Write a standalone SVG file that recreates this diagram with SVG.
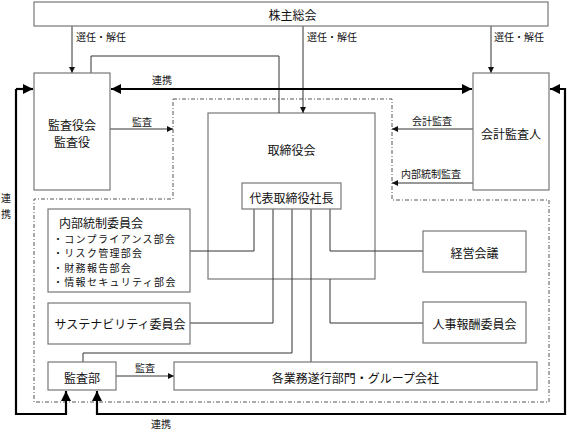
<svg xmlns="http://www.w3.org/2000/svg" width="567" height="430" viewBox="0 0 567 430">
<defs>
<style>
.box{fill:#fff;stroke:#777;stroke-width:1.2}
.t{font-family:"Noto Sans CJK JP","Noto Sans CJK SC",sans-serif;font-size:12px;fill:#111;text-anchor:middle;dominant-baseline:central}
.s{font-family:"Noto Sans CJK JP","Noto Sans CJK SC",sans-serif;font-size:10px;fill:#111;dominant-baseline:central}
.b{font-family:"Noto Sans CJK JP","Noto Sans CJK SC",sans-serif;font-size:10px;fill:#111;dominant-baseline:central;letter-spacing:1.3px}
.ln{fill:none;stroke:#333;stroke-width:1}
.th{fill:none;stroke:#000;stroke-width:2.2}
.dd{fill:none;stroke:#555;stroke-width:1;stroke-dasharray:4,2,1,2}
</style>
<marker id="a" viewBox="0 0 10 10" refX="10" refY="5" markerWidth="6" markerHeight="6" markerUnits="userSpaceOnUse" orient="auto"><path d="M0,0L10,5L0,10z" fill="#111"/></marker>
<marker id="A" viewBox="0 0 10 10" refX="10" refY="5" markerWidth="10" markerHeight="10" markerUnits="userSpaceOnUse" orient="auto-start-reverse"><path d="M0,0L10,5L0,10z" fill="#000"/></marker>
</defs>

<path class="dd" d="M173,99H392V200H549V402H34V199H173Z"/>

<g id="board"><rect class="box" x="208" y="113" width="167" height="166" style="fill:none"/><text class="t" x="291.5" y="149">取締役会</text></g>

<g id="connectors">
<line class="ln" x1="72" y1="26" x2="72" y2="73" marker-end="url(#a)"/>
<line class="ln" x1="303" y1="26" x2="303" y2="113" marker-end="url(#a)"/>
<line class="ln" x1="491" y1="26" x2="491" y2="73" marker-end="url(#a)"/>
<polyline class="ln" points="91,73 91,56 279,56 279,113"/>
<line class="th" x1="111" y1="89" x2="472" y2="89" marker-start="url(#A)" marker-end="url(#A)"/>
<polyline class="th" points="16,89 33,89" marker-end="url(#A)"/>
<polyline class="th" points="16,89 16,414 66,414 66,391" marker-end="url(#A)"/>
<polyline class="th" points="550,89 565,89 565,414 97,414 97,391" marker-start="url(#A)" marker-end="url(#A)"/>
<line class="ln" x1="110" y1="129" x2="173" y2="129" marker-end="url(#a)"/>
<line class="ln" x1="473" y1="129" x2="392" y2="129" marker-end="url(#a)"/>
<line class="ln" x1="473" y1="183" x2="392" y2="183" marker-end="url(#a)"/>
<polyline class="ln" points="254,209 254,251 190,251"/>
<polyline class="ln" points="273,209 273,323 190,323"/>
<polyline class="ln" points="330,209 330,251 423,251"/>
<polyline class="ln" points="330,279 330,323 423,323"/>
<polyline class="ln" points="292,209 292,353 83,353 83,362"/>
<line class="ln" x1="311" y1="209" x2="311" y2="362"/>
<line class="ln" x1="116" y1="376" x2="174" y2="376" marker-end="url(#a)"/>
</g>

<g id="labels">
<text class="s" x="76" y="36">選任・解任</text>
<text class="s" x="307" y="36">選任・解任</text>
<text class="s" x="494" y="36">選任・解任</text>
<text class="s" x="152" y="79">連携</text>
<text class="s" x="132" y="121">監査</text>
<text class="s" x="412" y="120">会計監査</text>
<text class="s" x="401" y="173">内部統制監査</text>
<text class="s" x="1" y="197">連</text>
<text class="s" x="1" y="213">携</text>
<text class="s" x="135" y="367">監査</text>
<text class="s" x="151" y="423">連携</text>
</g>

<g id="shareholders"><rect class="box" x="34" y="2" width="514" height="24"/><text class="t" x="292.5" y="14">株主総会</text></g>
<g id="auditboard"><rect class="box" x="34" y="73" width="76" height="117"/><text class="t" x="72" y="124">監査役会</text><text class="t" x="72" y="141.5">監査役</text></g>
<g id="accountant"><rect class="box" x="473" y="73" width="76" height="117"/><text class="t" x="511" y="133">会計監査人</text></g>
<g id="president"><rect class="box" x="242" y="183" width="99" height="26"/><text class="t" x="291.5" y="197">代表取締役社長</text></g>
<g id="internal"><rect class="box" x="48" y="209" width="142" height="83"/>
<text class="t" x="59" y="222" style="text-anchor:start">内部統制委員会</text>
<text class="b" x="53" y="238">・コンプライアンス部会</text>
<text class="b" x="53" y="252.5">・リスク管理部会</text>
<text class="b" x="53" y="267">・財務報告部会</text>
<text class="b" x="53" y="281.5">・情報セキュリティ部会</text></g>
<g id="sustain"><rect class="box" x="48" y="303" width="142" height="41"/><text class="t" x="120" y="323">サステナビリティ委員会</text></g>
<g id="mgmt"><rect class="box" x="423" y="231" width="103" height="41"/><text class="t" x="474.5" y="252">経営会議</text></g>
<g id="hr"><rect class="box" x="423" y="302" width="103" height="41"/><text class="t" x="474.5" y="323">人事報酬委員会</text></g>
<g id="auditdept"><rect class="box" x="48" y="362" width="68" height="28"/><text class="t" x="82" y="377">監査部</text></g>
<g id="business"><rect class="box" x="174" y="362" width="363" height="28"/><text class="t" x="355.5" y="377">各業務遂行部門・グループ会社</text></g>
</svg>
